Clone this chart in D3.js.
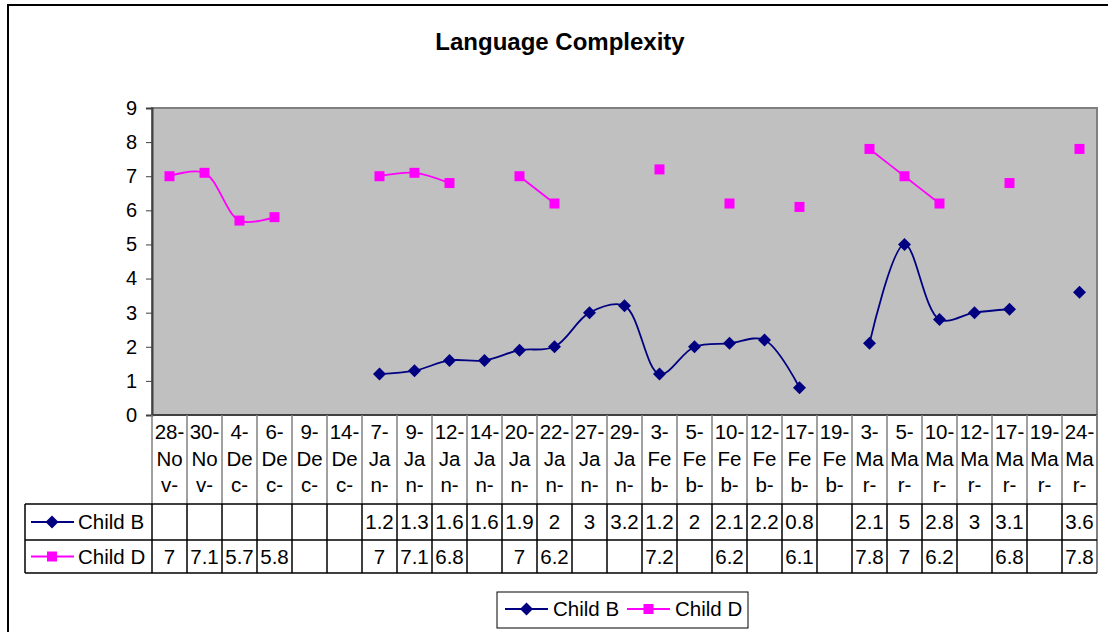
<!DOCTYPE html>
<html><head><meta charset="utf-8">
<script src="https://cdn.jsdelivr.net/npm/d3@7"></script>
<style>body{margin:0;background:#fff}svg{display:block;font-family:"Liberation Sans",Arial,sans-serif}</style>
</head><body><svg id="c" width="1108" height="632"></svg>
<script>
const categories = ["28-Nov-","30-Nov-","4-Dec-","6-Dec-","9-Dec-","14-Dec-","7-Jan-","9-Jan-","12-Jan-","14-Jan-","20-Jan-","22-Jan-","27-Jan-","29-Jan-","3-Feb-","5-Feb-","10-Feb-","12-Feb-","17-Feb-","19-Feb-","3-Mar-","5-Mar-","10-Mar-","12-Mar-","17-Mar-","19-Mar-","24-Mar-"];
const childB = [null,null,null,null,null,null,1.2,1.3,1.6,1.6,1.9,2,3,3.2,1.2,2,2.1,2.2,0.8,null,2.1,5,2.8,3,3.1,null,3.6];
const childD = [7,7.1,5.7,5.8,null,null,7,7.1,6.8,null,7,6.2,null,null,7.2,null,6.2,null,6.1,null,7.8,7,6.2,null,6.8,null,7.8];
const yTicks = [0,1,2,3,4,5,6,7,8,9];
const title = "Language Complexity";
const seriesList = [
  {name:"Child B", values:childB, color:"#000080", marker:"diamond"},
  {name:"Child D", values:childD, color:"#FF00FF", marker:"square"}
];

const svg = d3.select("#c");
const L = 152, R = 1097, T = 108, B = 415;
const x = d3.scaleBand().domain(categories).range([L, R]);
const y = d3.scaleLinear().domain([0, 9]).range([B, T]);

// outer border
svg.append("rect").attr("x",8).attr("y",5).attr("width",1130).attr("height",660)
  .attr("fill","#fff").attr("stroke","#000").attr("stroke-width",2);

// title
svg.append("text").attr("x",560).attr("y",50).attr("text-anchor","middle")
  .attr("font-size",24).attr("font-weight","bold").text(title);

// plot area
svg.append("rect").attr("x",L).attr("y",T).attr("width",R-L).attr("height",B-T)
  .attr("fill","#C0C0C0").attr("stroke","#808080").attr("stroke-width",2);

// y axis
const yAxis = d3.axisLeft(y).tickValues(yTicks).tickSize(6).tickPadding(9).tickFormat(d3.format("d"));
const ya = svg.append("g").attr("transform",`translate(${L},0)`).call(yAxis);
ya.select(".domain").attr("stroke","#404040").attr("stroke-width",2);
ya.selectAll(".tick line").attr("stroke","#404040");
ya.selectAll("text").attr("font-size",20).attr("font-family","Liberation Sans, Arial, sans-serif").attr("fill","#000");

// x axis line
svg.append("line").attr("x1",L).attr("x2",R).attr("y1",B).attr("y2",B).attr("stroke","#404040").attr("stroke-width",2);

// data table
const hdrBottom = 504, rowB = 540, rowD = 573, tblLeft = 25;
const g = svg.append("g");
categories.forEach((c,i)=>{
  const xx = x(c);
  g.append("line").attr("x1",xx).attr("x2",xx).attr("y1",B).attr("y2",hdrBottom).attr("stroke","#808080").attr("stroke-width",1.5);
  g.append("line").attr("x1",xx).attr("x2",xx).attr("y1",hdrBottom).attr("y2",rowD).attr("stroke","#000").attr("stroke-width",1.5);
});
g.append("line").attr("x1",R).attr("x2",R).attr("y1",B).attr("y2",rowD).attr("stroke","#808080").attr("stroke-width",2);
[hdrBottom,rowB,rowD].forEach(yy=>g.append("line").attr("x1",tblLeft).attr("x2",R).attr("y1",yy).attr("y2",yy).attr("stroke","#000").attr("stroke-width",1.5));
g.append("line").attr("x1",tblLeft).attr("x2",tblLeft).attr("y1",hdrBottom).attr("y2",rowD).attr("stroke","#000").attr("stroke-width",1.5);

// header labels
categories.forEach(c=>{
  const k = c.indexOf("-")+1;
  const lines = [c.slice(0,k), c.slice(k,k+2), c.slice(k+2)];
  const cx = x(c)+x.bandwidth()/2;
  lines.forEach((t,j)=>{
    g.append("text").attr("x",cx).attr("y",439+j*26.5).attr("text-anchor","middle")
      .attr("font-size",20.5).text(t);
  });
});

function drawMarker(parent, type, cx, cy, color){
  if(type==="diamond"){
    const s=6.5;
    parent.append("path").attr("d",`M${cx},${cy-s}L${cx+s},${cy}L${cx},${cy+s}L${cx-s},${cy}Z`).attr("fill",color);
  } else {
    const s=5;
    parent.append("rect").attr("x",cx-s).attr("y",cy-s).attr("width",2*s).attr("height",2*s).attr("fill",color);
  }
}

// rows
const rowCenters = [(hdrBottom+rowB)/2, (rowB+rowD)/2];
seriesList.forEach((s,si)=>{
  const cy = rowCenters[si];
  g.append("line").attr("x1",31).attr("x2",74).attr("y1",cy).attr("y2",cy).attr("stroke",s.color).attr("stroke-width",2);
  drawMarker(g, s.marker, 52, cy, s.color);
  g.append("text").attr("x",78).attr("y",cy+7).attr("font-size",20.5).text(s.name);
  s.values.forEach((v,i)=>{
    if(v==null) return;
    g.append("text").attr("x",x(categories[i])+x.bandwidth()/2).attr("y",cy+7)
      .attr("text-anchor","middle").attr("font-size",20.5).text(v);
  });
});

// series lines
const lineGen = d3.line()
  .defined(d=>d.v!=null)
  .x(d=>x(d.c)+x.bandwidth()/2)
  .y(d=>y(d.v))
  .curve(d3.curveCatmullRom.alpha(0.5));
seriesList.forEach(s=>{
  const pts = categories.map((c,i)=>({c, v:s.values[i]}));
  svg.append("path").datum(pts).attr("d",lineGen).attr("fill","none").attr("stroke",s.color).attr("stroke-width",1.8);
  const mg = svg.append("g");
  pts.filter(d=>d.v!=null).forEach(d=>drawMarker(mg, s.marker, x(d.c)+x.bandwidth()/2, y(d.v), s.color));
});

// legend
const lg = svg.append("g");
lg.append("rect").attr("x",497).attr("y",592).attr("width",251).attr("height",36).attr("fill","#fff").attr("stroke","#000").attr("stroke-width",1);
const legendPos = [{lx:505, tx:553},{lx:627, tx:675}];
seriesList.forEach((s,i)=>{
  const p = legendPos[i], cy = 609;
  lg.append("line").attr("x1",p.lx).attr("x2",p.lx+43).attr("y1",cy).attr("y2",cy).attr("stroke",s.color).attr("stroke-width",2);
  drawMarker(lg, s.marker, p.lx+21.5, cy, s.color);
  lg.append("text").attr("x",p.tx).attr("y",cy+7).attr("font-size",20.5).text(s.name);
});
</script></body></html>
